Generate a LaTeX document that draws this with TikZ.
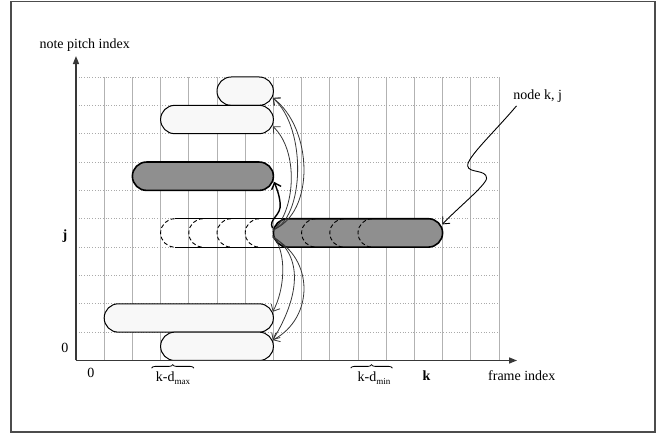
\documentclass[tikz,border=0pt]{standalone}
\usepackage{fontspec}
\setmainfont{Liberation Serif}
\usetikzlibrary{arrows.meta,shapes.misc,decorations.pathreplacing,calc}
\definecolor{darkfill}{RGB}{143,143,143}
\definecolor{lightfill}{RGB}{248,248,248}
\definecolor{gridv}{RGB}{178,178,178}
\definecolor{gridh}{RGB}{170,170,170}
\definecolor{curvecol}{RGB}{55,55,55}
\begin{document}
\begin{tikzpicture}[x=28.2pt,y=28.35pt,
  every node/.style={font=\fontsize{14pt}{16pt}\selectfont, inner sep=0pt},
  lightpill/.style={rounded rectangle, draw=black, line width=1pt, fill=lightfill, minimum height=28.35pt},
  darkpill/.style={rounded rectangle, draw=black, line width=1.6pt, fill=darkfill, minimum height=28.35pt},
  link/.style={draw=curvecol, line width=0.8pt, -{Straight Barb[length=5.5pt,width=10pt]}},
  boldlink/.style={draw=black, line width=1.4pt, -{Straight Barb[length=5.5pt,width=10pt]}},
  ghost/.style={dashed, dash pattern=on 4pt off 2.5pt, line width=0.9pt},
  axisline/.style={draw=black!78, line width=1.4pt, -{Triangle[length=8pt,width=6pt]}},
  brc/.style={decorate, decoration={brace, amplitude=3.5pt}, line width=0.8pt},
  gridvline/.style={draw=gridv, line width=0.8pt},
  gridhline/.style={draw=gridh, line width=0.7pt, dotted}
]
\useasboundingbox (-2.695,-2.628) rectangle (20.887,12.716);
% frame
\draw[draw=black!70, line width=1.4pt] (-2.305,-2.522) rectangle (20.53,12.656);
% grid
\foreach \i in {1,...,15} \draw[gridvline] (\i,0) -- (\i,10);
\foreach \j in {1,...,10} \draw[gridhline] (0,\j) -- (15,\j);
% ghost (dashed) durations in row j
\draw[line width=0.9pt] (3.5,5) -- (7.5,5) (3.5,4) -- (7.5,4);
\foreach \c in {3,4,5,6}
  \draw[ghost] (\c+0.5,5) arc[start angle=90,end angle=270,x radius=0.5,y radius=0.5];
% pills
\node[lightpill, minimum width=56.4pt] (p1) at (6,9.5) {};
\node[lightpill, minimum width=112.8pt] (p2) at (5,8.5) {};
\node[darkpill, minimum width=141pt] (p3) at (4.5,6.5) {};
\node[darkpill, minimum width=169.2pt] (pkj) at (10,4.5) {};
\node[lightpill, minimum width=169.2pt] (p5) at (4,1.5) {};
\node[lightpill, minimum width=112.8pt] (p6) at (5,0.5) {};
\foreach \c in {8,9,10}
  \draw[ghost] (\c+0.5,5) arc[start angle=90,end angle=270,x radius=0.5,y radius=0.5];
% axes
\coordinate (O) at (0,0);
\coordinate (ytip) at (0,10.74);
\coordinate (xtip) at (15.64,0);
\draw[axisline] (O) -- (ytip);
\draw[axisline] (O) -- (xtip);
% labels
\node[anchor=base west] at (-1.30,11.02) {note pitch index};
\node at (-0.39,0.44) {0};
\node[anchor=base] at (-0.39,4.28) {\textbf{j}};
\node at (0.53,-0.45) {0};
\node[anchor=base] at (3.44,-0.73) {k-d\raisebox{-0.45ex}{\fontsize{9pt}{9pt}\selectfont max}};
\node[anchor=base] at (10.57,-0.73) {k-d\raisebox{-0.45ex}{\fontsize{9pt}{9pt}\selectfont min}};
\node[anchor=base] at (12.43,-0.69) {\textbf{k}};
\node[anchor=base west] at (14.61,-0.69) {frame index};
\node[anchor=base west] (nkj) at (15.5,9.19) {node k, j};
% braces
\draw[brc] (2.68,-0.27) -- (4.18,-0.27);
\draw[brc] (9.74,-0.27) -- (11.22,-0.27);
% transitions
\coordinate (s1) at ($(pkj.west)+(0,0.16)$);
\coordinate (s2) at ($(pkj.west)+(0,0.10)$);
\coordinate (s3) at ($(pkj.west)+(0,0.05)$);
\coordinate (s4) at ($(pkj.west)+(0,-0.08)$);
\coordinate (s5) at ($(pkj.west)+(0,-0.12)$);
\coordinate (s6) at ($(pkj.west)+(0,-0.16)$);
\draw[link] (s2) .. controls (8.5,5.2) and (8.4,8.2) .. ($(p1.east)+(-0.04,-0.24)$);
\draw[link] (s2) .. controls (8.1,5.0) and (8.2,8.2) .. ($(p1.east)+(-0.04,-0.24)$);
\draw[link] (s3) .. controls (7.8,5.3) and (7.9,7.4) .. ($(p2.east)+(-0.04,-0.24)$);
\draw[boldlink] (s1) .. controls (6.8,5.0) and (7.3,5.1) .. (7.24,5.55) .. controls (7.2,5.9) and (7.1,6.1) .. ($(p3.east)+(0,-0.2)$);
\draw[link] (s4) .. controls (7.5,3.8) and (7.4,2.5) .. ($(p5.east)+(-0.04,0.22)$);
\draw[link] (s5) .. controls (8.05,3.7) and (7.95,2.3) .. ($(p6.east)+(-0.04,0.22)$);
\draw[link] (s6) .. controls (8.45,3.6) and (8.45,1.5) .. ($(p6.east)+(-0.04,0.22)$);
% node k, j pointer
\coordinate (nkjs) at (15.62,8.98);
\draw[link, draw=black, line width=0.9pt] (nkjs) .. controls (14.81,8.03) and (13.85,7.15) .. (13.89,6.86) .. controls (13.92,6.6) and (14.56,6.75) .. (14.56,6.43) .. controls (14.56,6.2) and (13.47,5.32) .. ($(pkj.east)+(-0.04,0.3)$);
\end{tikzpicture}
\end{document}
